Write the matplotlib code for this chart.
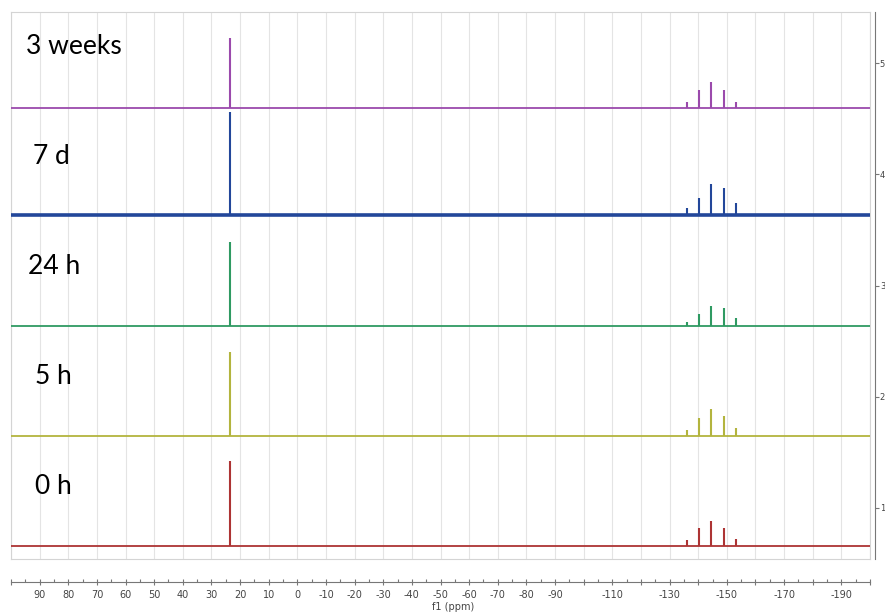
import matplotlib
matplotlib.use("Agg")
import matplotlib.pyplot as plt

# 19F spectra stacked over time
labels = ["3 weeks", "7 d", "24 h", "5 h", "0 h"]
colors = ["#9b4aac", "#23479a", "#2f9a62", "#b3b43e", "#ad3434"]
offsets = [4.60, 3.63, 2.64, 1.65, 0.66]
baseline_lw = [1.3, 2.6, 1.3, 1.3, 1.3]

main_shift = 23.6
main_heights = [0.63, 0.93, 0.755, 0.75, 0.765]

multiplet_shifts = [-136.0, -140.2, -144.6, -148.9, -153.3]
multiplet_heights = [
    [0.054, 0.16, 0.23, 0.16, 0.054],
    [0.063, 0.16, 0.28, 0.25, 0.11],
    [0.036, 0.108, 0.18, 0.16, 0.072],
    [0.054, 0.16, 0.24, 0.18, 0.072],
    [0.054, 0.16, 0.225, 0.16, 0.063],
]

label_x = [26, 33, 28, 35, 35]   # pixels from left
label_y = [46, 156, 266, 376, 486]

major_ticks = list(range(100, -201, -10))
shown = set(range(90, -91, -10)) | {-110, -130, -150, -170, -190}
tick_labels = [str(t) if t in shown else "" for t in major_ticks]

W, H = 885, 612
fig = plt.figure(figsize=(W / 100, H / 100), dpi=100)

def box(x0, y0, x1, y1):
    return [x0 / W, 1 - y1 / H, (x1 - x0) / W, (y1 - y0) / H]

ax = fig.add_axes(box(11, 12, 870, 559))
ax.set_xlim(100, -200)
ax.set_ylim(0.54, 5.46)
for s in ax.spines.values():
    s.set_color("#d4d4d4")
    s.set_linewidth(0.8)
ax.set_xticks(major_ticks)
ax.set_yticks([])
ax.tick_params(axis="x", length=0, labelbottom=False)
ax.grid(axis="x", color="#e4e4e4", lw=0.8)

for i in range(len(labels)):
    c = colors[i]
    y0 = offsets[i]
    ax.hlines(y0, 100, -200, color=c, lw=baseline_lw[i], zorder=3)
    ax.vlines([main_shift], y0, y0 + main_heights[i], color=c, lw=1.5, zorder=4)
    ax.vlines(multiplet_shifts, y0, [y0 + h for h in multiplet_heights[i]],
              color=c, lw=1.5, zorder=4)
    fig.text(label_x[i] / W, 1 - label_y[i] / H, labels[i], fontsize=19,
             family=["Lato", "DejaVu Sans"], va="center", ha="left")

# bottom ppm scale
axb = fig.add_axes(box(11, 581, 870, 582))
axb.set_xlim(100, -200)
axb.patch.set_visible(False)
for k in ["top", "left", "right"]:
    axb.spines[k].set_visible(False)
axb.spines["bottom"].set_color("#777777")
axb.spines["bottom"].set_linewidth(0.8)
axb.set_yticks([])
axb.set_xticks(major_ticks)
axb.set_xticklabels(tick_labels)
axb.set_xticks(list(range(95, -200, -10)), minor=True)
axb.tick_params(axis="x", which="major", direction="inout", length=5,
                width=0.8, color="#777777", labelsize=7, labelcolor="#444444", pad=3)
axb.tick_params(axis="x", which="minor", direction="in", length=2,
                width=0.8, color="#777777")
axb.set_xlabel("f1 (ppm)", fontsize=7, color="#444444")
axb.xaxis.set_label_coords(0.515, -20)

# right intensity scale
axr = fig.add_axes(box(874, 12, 875, 559))
axr.set_ylim(0.54, 5.46)
axr.patch.set_visible(False)
for k in ["top", "left", "bottom"]:
    axr.spines[k].set_visible(False)
axr.spines["right"].set_color("#777777")
axr.spines["right"].set_linewidth(0.8)
axr.set_xticks([])
axr.yaxis.tick_right()
axr.set_yticks([1, 2, 3, 4, 5])
axr.tick_params(axis="y", length=3, width=0.8, color="#777777",
                labelsize=6, labelcolor="#444444", pad=0.5)

fig.savefig("out.png", dpi=100)
